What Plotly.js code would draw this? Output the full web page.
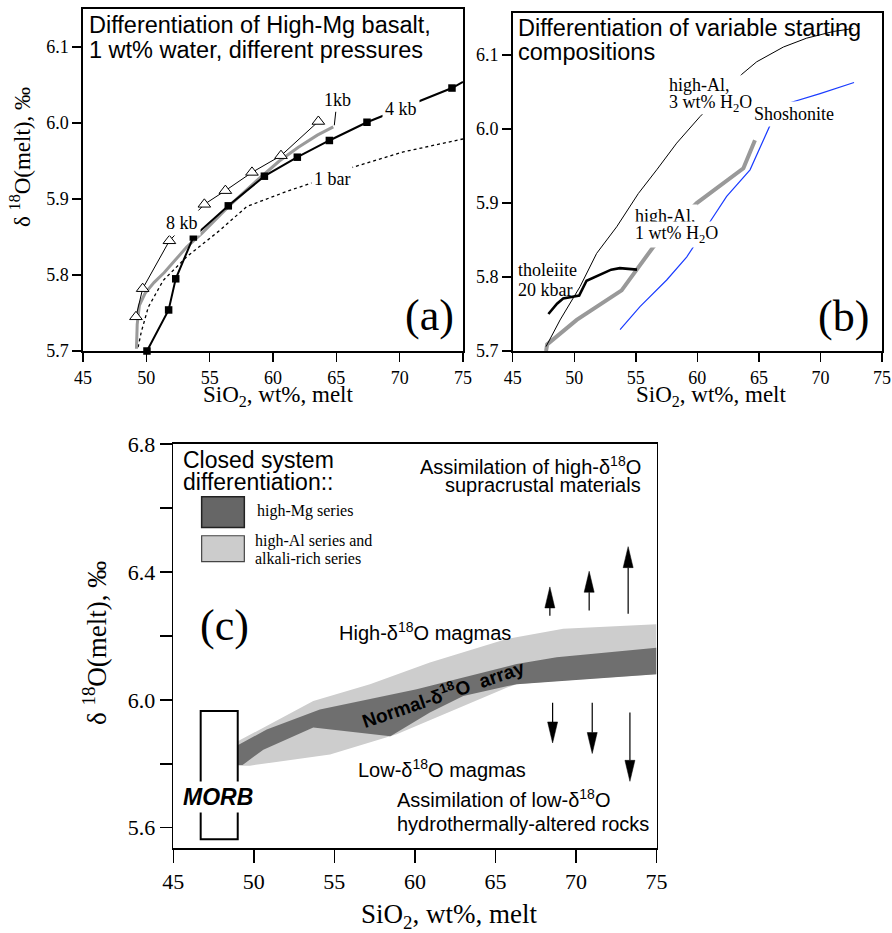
<!DOCTYPE html>
<html>
<head>
<meta charset="utf-8">
<script src="https://cdn.plot.ly/plotly-3.0.1.min.js"></script>
<style>html,body{margin:0;padding:0;background:#fff;}#chart{width:892px;height:933px;}</style>
</head>
<body>
<div id="chart"></div>
<script>
// ---------- Panel (a): High-Mg basalt, 1 wt% water ----------
const kb4_x = [50.05, 51.76, 52.32, 53.71, 56.47, 59.32, 61.92, 64.45, 67.42, 74.13];
const kb4_y = [5.700, 5.754, 5.795, 5.850, 5.891, 5.930, 5.955, 5.977, 6.001, 6.046];
const kb4_edge_x = [75.0];
const kb4_edge_y = [6.054];
const kb8_x = [49.18, 49.71, 51.82, 54.58, 56.24, 58.34, 60.63, 63.58];
const kb8_y = [5.745, 5.782, 5.845, 5.893, 5.911, 5.935, 5.957, 6.002];
const kb1_x = [49.22, 49.28, 49.45, 49.9, 50.6, 51.4, 52.3, 53.2, 54.4, 56.6, 58.5, 60.5, 62.0, 63.5, 64.76];
const kb1_y = [5.703, 5.735, 5.760, 5.776, 5.790, 5.803, 5.820, 5.837, 5.855, 5.892, 5.921, 5.950, 5.968, 5.984, 5.995];
const bar1_x = [49.35, 49.6, 50.16, 51.34, 53.19, 55.82, 57.92, 61.08, 63.05, 66.34, 70.29, 74.76, 75.0];
const bar1_y = [5.705, 5.725, 5.758, 5.793, 5.824, 5.859, 5.890, 5.910, 5.921, 5.942, 5.962, 5.978, 5.979];

// ---------- Panel (b): variable starting compositions ----------
const hiAl3_x = [47.71, 48.85, 50.47, 51.82, 53.45, 55.21, 56.70, 58.32, 60.22, 63.60, 64.82, 66.99, 68.88, 71.05, 72.67];
const hiAl3_y = [5.706, 5.742, 5.787, 5.832, 5.868, 5.913, 5.945, 5.981, 6.017, 6.074, 6.091, 6.111, 6.123, 6.132, 6.136];
const hiAl1_x = [47.71, 47.80, 50.20, 53.85, 56.43, 59.95, 63.74, 64.68];
const hiAl1_y = [5.700, 5.709, 5.742, 5.782, 5.841, 5.900, 5.947, 5.985];
const thol_x = [47.9, 48.6, 49.1, 50.0, 50.4, 51.0, 52.1, 53.0, 53.7, 55.1];
const thol_y = [5.750, 5.764, 5.771, 5.774, 5.775, 5.795, 5.803, 5.810, 5.812, 5.810];
const shosh_x = [53.72, 55.34, 57.51, 59.13, 60.76, 62.38, 64.28, 65.09, 65.90, 67.39, 69.97, 72.73];
const shosh_y = [5.729, 5.760, 5.796, 5.827, 5.868, 5.909, 5.945, 5.976, 6.005, 6.035, 6.048, 6.063];

// ---------- Panel (c): normal-d18O array ----------
const hiAl_band_x = [49.0, 50.59, 53.69, 57.21, 60.93, 65.69, 69.21, 75.0, 75.0, 68.8, 66.3, 65.69, 63.0, 58.87, 54.73, 49.76, 49.0];
const hiAl_band_y = [5.870, 5.913, 5.996, 6.049, 6.117, 6.190, 6.222, 6.236, 6.080, 6.059, 6.049, 6.038, 5.980, 5.892, 5.829, 5.794, 5.794];
const hiMg_band_x = [49.0, 50.8, 54.1, 57.21, 60.11, 63.0, 66.32, 68.8, 75.0, 75.0, 68.8, 66.32, 63.0, 60.93, 58.48, 53.69, 50.59, 49.3, 49.0];
const hiMg_band_y = [5.858, 5.907, 5.970, 6.002, 6.033, 6.070, 6.112, 6.133, 6.163, 6.080, 6.059, 6.049, 6.012, 5.960, 5.886, 5.913, 5.844, 5.796, 5.796];
const morb_x = [46.70, 49.0];
const morb_y = [5.564, 5.965];
// assimilation arrows: x, tail y, tip y
const up_x = [68.38, 70.82, 73.24];
const up_tail = [6.263, 6.279, 6.269];
const up_tip = [6.353, 6.402, 6.479];
const dn_x = [68.55, 71.01, 73.35];
const dn_tail = [5.991, 5.991, 5.960];
const dn_tip = [5.865, 5.832, 5.745];

const xticks = [45, 50, 55, 60, 65, 70, 75];

const SERIF = 'Liberation Serif, Times New Roman, serif';
const SANS = 'Liberation Sans, Arial, Helvetica, sans-serif';

const traces = [
  // (a)
  {x: bar1_x, y: bar1_y, xaxis:'x', yaxis:'y', mode:'lines', line:{color:'black', width:1.3, dash:'dot'}, name:'1 bar'},
  {x: kb1_x, y: kb1_y, xaxis:'x', yaxis:'y', mode:'lines', line:{color:'#9a9a9a', width:3}, name:'1kb'},
  {x: kb4_x.concat(kb4_edge_x), y: kb4_y.concat(kb4_edge_y), xaxis:'x', yaxis:'y', mode:'lines', line:{color:'black', width:2}, name:'4 kb line'},
  {x: kb8_x, y: kb8_y, xaxis:'x', yaxis:'y', mode:'lines+markers', line:{color:'black', width:1},
   marker:{symbol:'triangle-up', size:11, color:'white', line:{color:'black', width:1}}, cliponaxis:false, name:'8 kb'},
  {x: kb4_x, y: kb4_y, xaxis:'x', yaxis:'y', mode:'markers', marker:{symbol:'square', size:7.5, color:'black'}, cliponaxis:false, name:'4 kb'},
  // (b)
  {x: hiAl1_x, y: hiAl1_y, xaxis:'x2', yaxis:'y2', mode:'lines', line:{color:'#999999', width:4}, name:'high-Al 1wt%'},
  {x: hiAl3_x, y: hiAl3_y, xaxis:'x2', yaxis:'y2', mode:'lines', line:{color:'black', width:1}, name:'high-Al 3wt%'},
  {x: thol_x, y: thol_y, xaxis:'x2', yaxis:'y2', mode:'lines', line:{color:'black', width:2.6}, name:'tholeiite'},
  {x: shosh_x, y: shosh_y, xaxis:'x2', yaxis:'y2', mode:'lines', line:{color:'#1a3cff', width:1.2}, name:'Shoshonite'},
  // (c)
  {x: hiAl_band_x, y: hiAl_band_y, xaxis:'x3', yaxis:'y3', mode:'lines', fill:'toself', fillcolor:'#cdcdcd', line:{width:0, color:'#cdcdcd'}, name:'high-Al series'},
  {x: hiMg_band_x, y: hiMg_band_y, xaxis:'x3', yaxis:'y3', mode:'lines', fill:'toself', fillcolor:'#6f6f6f', line:{width:0, color:'#6f6f6f'}, name:'high-Mg series'}
];

function axis(domain, range, extra) {
  return Object.assign({
    domain: domain, range: range, showline: true, linewidth: 1.6, linecolor: 'black', mirror: true,
    ticks: 'outside', ticklen: 9, tickwidth: 1.5, tickcolor: 'black', showgrid: false, zeroline: false,
    tickfont: {family: SERIF, size: 18, color: 'black'}, fixedrange: true
  }, extra);
}
const W = 892, H = 933;
const px = v => v / W, py = v => 1 - v / H;

const ann = [];
function txt(text, x, y, xref, yref, o) {
  ann.push(Object.assign({text: text, x: x, y: y, xref: xref, yref: yref, showarrow: false,
    xanchor: 'center', yanchor: 'middle',
    font: {family: SERIF, size: 18, color: 'black'}}, o || {}));
}
const T23 = {family:SANS, size:23.5, color:'black'};
// ---- panel (a) texts ----
txt('Differentiation of High-Mg basalt,', px(87), py(25), 'paper', 'paper', {xanchor:'left', font:T23});
txt('1 wt% water, different pressures', px(87), py(49.5), 'paper', 'paper', {xanchor:'left', font:T23});
txt('4 kb', 70.1, 6.018, 'x', 'y', {bgcolor:'white', borderpad:2});
txt('8 kb', 52.79, 5.868, 'x', 'y', {bgcolor:'white', borderpad:2});
txt('1 bar', 64.63, 5.926, 'x', 'y', {bgcolor:'white', borderpad:2});
ann.push({text:'1kb', x:64.84, y:5.997, xref:'x', yref:'y', showarrow:true, arrowhead:0, arrowwidth:1, arrowcolor:'black',
  ax:2.7, ay:-25, standoff:0, font:{family:SERIF, size:18, color:'black'}});
txt('(a)', 72.39, 5.747, 'x', 'y', {font:{family:SERIF, size:44, color:'black'}});
txt('δ <sup>18</sup>O(melt), ‰', px(21), py(157), 'paper', 'paper', {textangle:-90, font:{family:SERIF, size:23, color:'black'}});
txt('SiO<sub>2</sub>, wt%, melt', px(278), py(396), 'paper', 'paper', {font:{family:SERIF, size:23, color:'black'}});
// ---- panel (b) texts ----
txt('Differentiation of variable starting', px(516), py(28), 'paper', 'paper', {xanchor:'left', font:T23});
txt('compositions', px(516), py(52.5), 'paper', 'paper', {xanchor:'left', font:T23});
txt('high-Al,', 57.51, 6.059, 'x2', 'y2', {xanchor:'left'});
txt('3 wt% H<sub>2</sub>O', 57.51, 6.034, 'x2', 'y2', {xanchor:'left'});
txt('Shoshonite', 67.85, 6.021, 'x2', 'y2', {bgcolor:'white', borderpad:2});
txt('high-Al,', 54.75, 5.882, 'x2', 'y2', {xanchor:'left', bgcolor:'white', borderpad:1});
txt('1 wt% H<sub>2</sub>O', 54.75, 5.857, 'x2', 'y2', {xanchor:'left', bgcolor:'white', borderpad:1});
txt('tholeiite', 45.27, 5.810, 'x2', 'y2', {xanchor:'left'});
txt('20 kbar', 45.27, 5.783, 'x2', 'y2', {xanchor:'left'});
txt('(b)', 71.86, 5.746, 'x2', 'y2', {font:{family:SERIF, size:44, color:'black'}});
txt('SiO<sub>2</sub>, wt%, melt', px(711), py(396), 'paper', 'paper', {font:{family:SERIF, size:23, color:'black'}});
// ---- panel (c) texts ----
const S20 = {family:SANS, size:20, color:'black'};
txt('Closed system', 45.5, 6.750, 'x3', 'y3', {xanchor:'left', font:{family:SANS, size:23, color:'black'}});
txt('differentiation::', 45.5, 6.680, 'x3', 'y3', {xanchor:'left', font:{family:SANS, size:23, color:'black'}});
txt('high-Mg series', 50.07, 6.591, 'x3', 'y3', {xanchor:'left', font:{family:SERIF, size:16, color:'black'}});
txt('high-Al series and', 49.97, 6.498, 'x3', 'y3', {xanchor:'left', font:{family:SERIF, size:16, color:'black'}});
txt('alkali-rich series', 49.97, 6.443, 'x3', 'y3', {xanchor:'left', font:{family:SERIF, size:16, color:'black'}});
txt('Assimilation of high-δ<sup>18</sup>O', 74.17, 6.734, 'x3', 'y3', {xanchor:'right', font:S20});
txt('supracrustal materials', 74.17, 6.672, 'x3', 'y3', {xanchor:'right', font:S20});
txt('(c)', 48.15, 6.231, 'x3', 'y3', {font:{family:SERIF, size:44, color:'black'}});
txt('High-δ<sup>18</sup>O magmas', 60.64, 6.215, 'x3', 'y3', {font:S20});
txt('Normal-δ<sup>18</sup>O  array', 61.77, 6.020, 'x3', 'y3', {textangle:-19, font:{family:SANS, size:19, color:'black', weight:'bold'}});
txt('Low-δ<sup>18</sup>O magmas', 61.70, 5.784, 'x3', 'y3', {font:S20});
txt('Assimilation of low-δ<sup>18</sup>O', 58.76, 5.690, 'x3', 'y3', {xanchor:'left', font:S20});
txt('hydrothermally-altered rocks', 58.76, 5.612, 'x3', 'y3', {xanchor:'left', font:S20});
txt('<b><i>MORB</i></b>', 47.79, 5.696, 'x3', 'y3', {bgcolor:'white', borderpad:2, font:{family:SANS, size:23, color:'black'}});
txt('δ <sup>18</sup>O(melt), ‰', px(95), py(643), 'paper', 'paper', {textangle:-90, font:{family:SERIF, size:27, color:'black'}});
txt('SiO<sub>2</sub>, wt%, melt', px(449), py(916), 'paper', 'paper', {font:{family:SERIF, size:27, color:'black'}});

// ---- shapes ----
const shapes = [];
// white mask behind the "high-Al, 3 wt% H2O" label (line passes behind the label)
shapes.push({type:'rect', xref:'x2', yref:'y2', x0:57.35, x1:63.65, y0:6.020, y1:6.073, fillcolor:'white', line:{width:0}, layer:'above'});
// legend swatches (c)
shapes.push({type:'rect', xref:'x3', yref:'y3', x0:46.76, x1:49.41, y0:6.539, y1:6.635, fillcolor:'#666666', line:{color:'#222', width:1.5}});
shapes.push({type:'rect', xref:'x3', yref:'y3', x0:46.76, x1:49.41, y0:6.432, y1:6.513, fillcolor:'#cccccc', line:{color:'#444', width:1.2}});
// MORB box
shapes.push({type:'rect', xref:'x3', yref:'y3', x0:morb_x[0], x1:morb_x[1], y0:morb_y[0], y1:morb_y[1], fillcolor:'rgba(0,0,0,0)', line:{color:'black', width:2}});
// arrows (shaft + head)
const headH = 21 / 319.75, headW = 5 / 16.11;
function arrow(x, tail, tip) {
  const dir = tip > tail ? 1 : -1;
  const base = tip - dir * headH;
  shapes.push({type:'line', xref:'x3', yref:'y3', x0:x, x1:x, y0:tail, y1:base, line:{color:'black', width:1.2}});
  shapes.push({type:'path', xref:'x3', yref:'y3', path:`M ${x - headW} ${base} L ${x + headW} ${base} L ${x} ${tip} Z`, fillcolor:'black', line:{color:'black', width:0.5}});
}
for (let i = 0; i < up_x.length; i++) arrow(up_x[i], up_tail[i], up_tip[i]);
for (let i = 0; i < dn_x.length; i++) arrow(dn_x[i], dn_tail[i], dn_tip[i]);

const layout = {
  width: W, height: H, margin: {l:0, r:0, t:0, b:0}, paper_bgcolor:'white', plot_bgcolor:'white', showlegend:false,
  xaxis: axis([px(83), px(463)], [45, 75], {anchor:'y', tickvals: xticks, ticklabelstandoff: 1}),
  yaxis: axis([py(351), py(9)], [5.7, 6.15], {anchor:'x', tickvals:[5.7, 5.8, 5.9, 6.0, 6.1], ticktext:['5.7','5.8','5.9','6.0','6.1']}),
  xaxis2: axis([px(512.7), px(882)], [45, 75], {anchor:'y2', tickvals: xticks, ticklabelstandoff: 1}),
  yaxis2: axis([py(351), py(13)], [5.7, 6.157], {anchor:'x2', tickvals:[5.7, 5.8, 5.9, 6.0, 6.1], ticktext:['5.7','5.8','5.9','6.0','6.1']}),
  xaxis3: axis([px(173.3), px(656.5)], [45, 75], {anchor:'y3', tickvals: xticks, ticklen:13, tickfont:{family:SERIF, size:22, color:'black'}}),
  yaxis3: axis([py(848), py(444)], [5.5365, 6.8], {anchor:'x3', ticklen:12, tickvals:[5.6, 5.8, 6.0, 6.2, 6.4, 6.6, 6.8], ticktext:['5.6','','6.0','','6.4','','6.8'], tickfont:{family:SERIF, size:22, color:'black'}}),
  annotations: ann,
  shapes: shapes
};
Plotly.newPlot('chart', traces, layout, {staticPlot:true, displayModeBar:false});
</script>
</body>
</html>
